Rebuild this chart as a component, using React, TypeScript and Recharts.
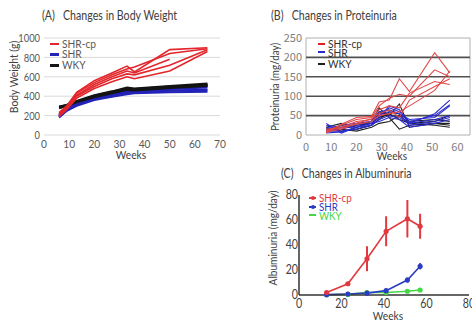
import React from "react";
import {
  LineChart,
  Line,
  XAxis,
  YAxis,
  CartesianGrid,
  ReferenceLine,
  ReferenceArea,
  ErrorBar,
} from "recharts";

// (A) body weight, individual animals
const weeksA = [6, 9, 13, 20, 27, 33, 36, 50, 65];
const shrcpWeight = [
  [230, 300, 440, 560, 640, 710, 650, 880, 900],
  [210, 290, 430, 540, 620, 680, 700, 840, 890],
  [200, 270, 410, 520, 600, 660, 640, 780, null],
  [220, 280, 400, 500, 580, 630, 620, 720, 880],
  [190, 260, 380, 480, 550, 600, 580, 660, 860],
];
const shrWeight = [
  [200, 270, 330, 390, 430, 460, 465, 490, 510],
  [190, 260, 320, 380, 420, 450, 455, 475, 490],
  [180, 250, 310, 370, 410, 440, 445, 460, 470],
  [210, 270, 320, 370, 400, 430, 440, 455, 460],
  [185, 250, 300, 360, 395, 420, 430, 440, 445],
  [195, 265, 325, 385, 425, 455, 460, 480, 500],
];
const wkyWeight = [
  [290, 310, 350, 410, 450, 490, 480, 505, 530],
  [285, 305, 345, 400, 440, 475, 470, 495, 520],
  [280, 300, 340, 395, 435, 470, 465, 490, 515],
  [295, 310, 345, 405, 445, 480, 475, 500, 510],
  [275, 300, 340, 390, 430, 465, 460, 485, 505],
];
const ticksA = [0, 10, 20, 30, 40, 50, 60, 70];
const yTicksA = [0, 200, 400, 600, 800, 1000];

// (B) proteinuria, individual animals
const weeksB = [8, 14, 20, 26, 29, 33, 37, 41, 51, 57];
const shrcpProt = [
  [5, 28, 45, 48, 85, 90, 145, 112, 212, 160],
  [10, 25, 40, 45, 75, 95, 105, 100, 168, 150],
  [15, 20, 35, 40, 65, 75, 70, 108, 138, 130],
  [8, 15, 30, 42, 55, 65, 45, 90, 125, 145],
  [12, 18, 28, 35, 50, 55, 60, 75, 115, 165],
];
const shrProt = [
  [30, 5, 20, 30, 45, 75, 65, 30, 55, 90],
  [20, 15, 25, 35, 50, 70, 60, 35, 50, 78],
  [10, 10, 15, 25, 55, 60, 55, 40, 45, 75],
  [25, 20, 20, 25, 40, 50, 45, 30, 40, 50],
  [15, 25, 30, 35, 60, 65, 55, 25, 35, 45],
  [5, 8, 20, 30, 35, 45, 40, 20, 30, 40],
];
const wkyProt = [
  [10, 25, 15, 25, 60, 50, 80, 20, 30, 30],
  [15, 20, 25, 30, 45, 55, 40, 30, 35, 50],
  [20, 30, 20, 35, 70, 45, 15, 25, 30, 25],
  [12, 15, 10, 20, 30, 35, 50, 30, 25, 20],
  [18, 10, 15, 25, 40, 60, 55, 35, 40, 35],
];
const ticksB = [0, 10, 20, 30, 40, 50, 60];
const yTicksB = [0, 50, 100, 150, 200, 250];
const gridB = [50, 100, 150, 200];

// (C) albuminuria, group means with error
const weeksC = [13, 23, 32, 41, 51, 57];
const shrcpAlb = [2, 9, 29, 51, 61, 55];
const shrcpAlbErr = [0.5, 1.5, 10, 12, 15, 10];
const shrAlb = [0.3, 0.8, 1.5, 3.5, 12, 23];
const shrAlbErr = [0.3, 0.3, 0.5, 1, 2, 2.5];
const wkyAlb = [0.2, 0.5, 2, 2, 3, 4];
const wkyAlbErr = [0.2, 0.2, 0.8, 0.5, 0.5, 1];
const ticksC = [0, 20, 40, 60, 80];
const yTicksC = [0, 20, 40, 60, 80];

const RED = "#e3262b";
const BLUE = "#2323b8";
const BLACK = "#141414";

function buildRows(weeks: number[], groups: Record<string, (number | null)[][]>) {
  return weeks.map((week, i) => {
    const row: Record<string, number | null> = { week };
    Object.entries(groups).forEach(([key, lines]) => {
      lines.forEach((vals, j) => {
        row[`${key}${j}`] = vals[i] ?? null;
      });
    });
    return row;
  });
}

const rowsA = buildRows(weeksA, { cp: shrcpWeight, shr: shrWeight, wky: wkyWeight });
const rowsB = buildRows(weeksB, { cp: shrcpProt, shr: shrProt, wky: wkyProt });
const rowsC = weeksC.map((week, i) => ({
  week,
  cp: shrcpAlb[i],
  cpErr: shrcpAlbErr[i],
  shr: shrAlb[i],
  shrErr: shrAlbErr[i],
  wky: wkyAlb[i],
  wkyErr: wkyAlbErr[i],
}));

const FONT = "Lato, 'Open Sans', sans-serif";
const JP = "'Noto Sans CJK JP', sans-serif";

// the source figure is squeezed sideways, so text gets a scaleX
function Txt({
  x,
  y,
  children,
  size = 12,
  color = "#404040",
  rotate = false,
  left = false,
  sx = 0.85,
}: {
  x: number;
  y: number;
  children: React.ReactNode;
  size?: number;
  color?: string;
  rotate?: boolean;
  left?: boolean;
  sx?: number;
}) {
  return (
    <div
      style={{
        position: "absolute",
        left: x,
        top: y,
        transformOrigin: left ? "left center" : "center center",
        transform: `translate(${left ? "0" : "-50%"}, -50%)${rotate ? " rotate(-90deg)" : ""} scaleX(${sx})`,
        fontSize: size,
        color,
        fontFamily: FONT,
        whiteSpace: "pre",
        lineHeight: 1,
      }}
    >
      {children}
    </div>
  );
}

function Swatch({ x, y, w, color, thick, dot }: { x: number; y: number; w: number; color: string; thick: number; dot?: boolean }) {
  return (
    <div style={{ position: "absolute", left: x, top: y - thick / 2, width: w, height: thick, background: color }}>
      {dot && (
        <div
          style={{
            position: "absolute",
            left: w / 2 - 2,
            top: thick / 2 - 2,
            width: 4,
            height: 4,
            borderRadius: 2,
            background: color,
          }}
        />
      )}
    </div>
  );
}

function makeTick(axis: "x" | "y", font: string, size: number, fill: string, sx: number) {
  return (props: any) => {
    const { x, y, payload } = props;
    return (
      <text
        x={0}
        y={0}
        transform={`translate(${x},${y}) scale(${sx},1)`}
        textAnchor={axis === "y" ? "end" : "middle"}
        dy={axis === "y" ? "0.35em" : "0.8em"}
        fontSize={size}
        fontFamily={font}
        fill={fill}
      >
        {payload.value}
      </text>
    );
  };
}

function lines(prefix: string, count: number, color: string, width: number) {
  return Array.from({ length: count }, (_, j) => (
    <Line
      key={`${prefix}${j}`}
      type="linear"
      dataKey={`${prefix}${j}`}
      stroke={color}
      strokeWidth={width}
      dot={false}
      isAnimationActive={false}
    />
  ));
}

export default function App() {
  return (
    <div
      style={{
        position: "absolute",
        left: 0,
        top: 0,
        width: 472,
        height: 320,
        overflow: "hidden",
        background: "#fff",
        fontFamily: FONT,
      }}
    >
      {/* (A) */}
      <div style={{ position: "absolute", left: 0, top: 0 }}>
        <LineChart width={240} height={170} data={rowsA} margin={{ top: 38, right: 20, bottom: 15, left: 0 }}>
          <CartesianGrid stroke="#d9d9d9" vertical={false} />
          <XAxis
            type="number"
            dataKey="week"
            domain={[0, 70]}
            ticks={ticksA}
            interval={0}
            height={20}
            axisLine={false}
            tickLine={false}
            tickSize={0}
            tickMargin={3}
            tick={makeTick("x", FONT, 12, "#595959", 0.85)}
          />
          <YAxis
            domain={[0, 1000]}
            ticks={yTicksA}
            interval={0}
            width={44}
            axisLine={false}
            tickLine={false}
            tickSize={0}
            tickMargin={4}
            tick={makeTick("y", FONT, 12, "#595959", 0.78)}
          />
          {lines("shr", shrWeight.length, BLUE, 2)}
          {lines("wky", wkyWeight.length, BLACK, 2)}
          {lines("cp", shrcpWeight.length, RED, 1.6)}
        </LineChart>
      </div>

      {/* (B) */}
      <div style={{ position: "absolute", left: 236, top: 0 }}>
        <LineChart width={236} height={170} data={rowsB} margin={{ top: 38, right: 2, bottom: 15, left: 0 }}>
          {gridB.map((v) => (
            <ReferenceLine key={v} y={v} stroke="#505050" strokeWidth={1.6} />
          ))}
          <ReferenceArea x1={0} x2={65} y1={0} y2={250} fill="none" stroke="#b0b0b0" strokeWidth={1} />
          <XAxis
            type="number"
            dataKey="week"
            domain={[0, 65]}
            ticks={ticksB}
            interval={0}
            height={20}
            axisLine={false}
            tickLine={false}
            tickSize={0}
            tickMargin={7}
            tick={makeTick("x", JP, 11, "#808080", 1)}
          />
          <YAxis
            domain={[0, 250]}
            ticks={yTicksB}
            interval={0}
            width={70}
            axisLine={false}
            tickLine={false}
            tickSize={0}
            tickMargin={4}
            tick={makeTick("y", JP, 11, "#808080", 1)}
          />
          {lines("wky", wkyProt.length, "#202020", 1.1)}
          {lines("shr", shrProt.length, "#2a2ad0", 1.1)}
          {lines("cp", shrcpProt.length, "#e04848", 1.1)}
        </LineChart>
      </div>

      {/* (C) */}
      <div style={{ position: "absolute", left: 236, top: 170 }}>
        <LineChart width={236} height={150} data={rowsC} margin={{ top: 25, right: 3, bottom: 5, left: 0 }}>
          <XAxis
            type="number"
            dataKey="week"
            domain={[0, 80]}
            ticks={ticksC}
            interval={0}
            height={20}
            axisLine={{ stroke: "#333", strokeWidth: 1.5 }}
            tickLine={false}
            tickSize={0}
            tickMargin={3}
            tick={makeTick("x", FONT, 12.5, "#404040", 0.85)}
          />
          <YAxis
            domain={[0, 80]}
            ticks={yTicksC}
            interval={0}
            width={63}
            axisLine={{ stroke: "#333", strokeWidth: 1.5 }}
            tickLine={false}
            tickSize={0}
            tickMargin={1}
            tick={makeTick("y", FONT, 12.5, "#404040", 0.85)}
          />
          <Line
            type="linear"
            dataKey="wky"
            stroke="#45d845"
            strokeWidth={1.6}
            dot={{ r: 1.8, fill: "#45d845", stroke: "#45d845" }}
            isAnimationActive={false}
          >
            <ErrorBar dataKey="wkyErr" width={0} stroke="#45d845" strokeWidth={2} direction="y" />
          </Line>
          <Line
            type="linear"
            dataKey="shr"
            stroke="#2b3bc4"
            strokeWidth={1.6}
            dot={{ r: 1.8, fill: "#2b3bc4", stroke: "#2b3bc4" }}
            isAnimationActive={false}
          >
            <ErrorBar dataKey="shrErr" width={0} stroke="#2b3bc4" strokeWidth={2} direction="y" />
          </Line>
          <Line
            type="linear"
            dataKey="cp"
            stroke="#e0393f"
            strokeWidth={1.6}
            dot={{ r: 1.8, fill: "#e0393f", stroke: "#e0393f" }}
            isAnimationActive={false}
          >
            <ErrorBar dataKey="cpErr" width={0} stroke="#e0393f" strokeWidth={2} direction="y" />
          </Line>
        </LineChart>
      </div>

      {/* titles */}
      <Txt x={42} y={16} left size={12.5}>{"(A)   Changes in Body Weight"}</Txt>
      <Txt x={271} y={16} left size={12.5}>{"(B)   Changes in Proteinuria"}</Txt>
      <Txt x={281} y={174} left size={12.5}>{"(C)   Changes in Albuminuria"}</Txt>

      {/* axis titles */}
      <Txt x={14} y={77} rotate size={11.5} sx={0.9}>Body Weight (g)</Txt>
      <Txt x={131} y={155} size={12}>Weeks</Txt>
      <Txt x={274} y={87} rotate size={11} sx={0.9}>Proteinuria (mg/day)</Txt>
      <Txt x={392} y={156} size={12}>Weeks</Txt>
      <Txt x={273} y={238} rotate size={11.5} sx={0.88}>Albuminuria (mg/day)</Txt>
      <Txt x={388} y={316} size={12}>Weeks</Txt>

      {/* legend A */}
      <Swatch x={50} y={44} w={9} color={RED} thick={1.5} />
      <Txt x={62} y={44} left size={12} color="#595959">SHR-cp</Txt>
      <Swatch x={50} y={54} w={9} color={BLUE} thick={3} />
      <Txt x={62} y={54} left size={12} color="#595959">SHR</Txt>
      <Swatch x={50} y={65} w={9} color={BLACK} thick={3} />
      <Txt x={62} y={65} left size={12} color="#595959">WKY</Txt>

      {/* legend B */}
      <Swatch x={318} y={44} w={7} color="#e02020" thick={2} />
      <Txt x={328} y={44} left size={12} color="#333">SHR-cp</Txt>
      <Swatch x={318} y={52} w={7} color="#2a2ad0" thick={2} />
      <Txt x={328} y={53} left size={12} color="#333">SHR</Txt>
      <Swatch x={318} y={64} w={7} color="#202020" thick={2} />
      <Txt x={328} y={64} left size={12} color="#333">WKY</Txt>

      {/* legend C */}
      <Swatch x={309} y={198} w={7} color="#e0393f" thick={1.5} dot />
      <Txt x={319} y={198} left size={11.5} color="#e0393f">SHR-cp</Txt>
      <Swatch x={309} y={207} w={7} color="#2b3bc4" thick={1.5} dot />
      <Txt x={319} y={207} left size={11.5} color="#2b3bc4">SHR</Txt>
      <Swatch x={309} y={215} w={7} color="#45d845" thick={1.5} />
      <Txt x={319} y={216} left size={11.5} color="#45d845">WKY</Txt>
    </div>
  );
}
